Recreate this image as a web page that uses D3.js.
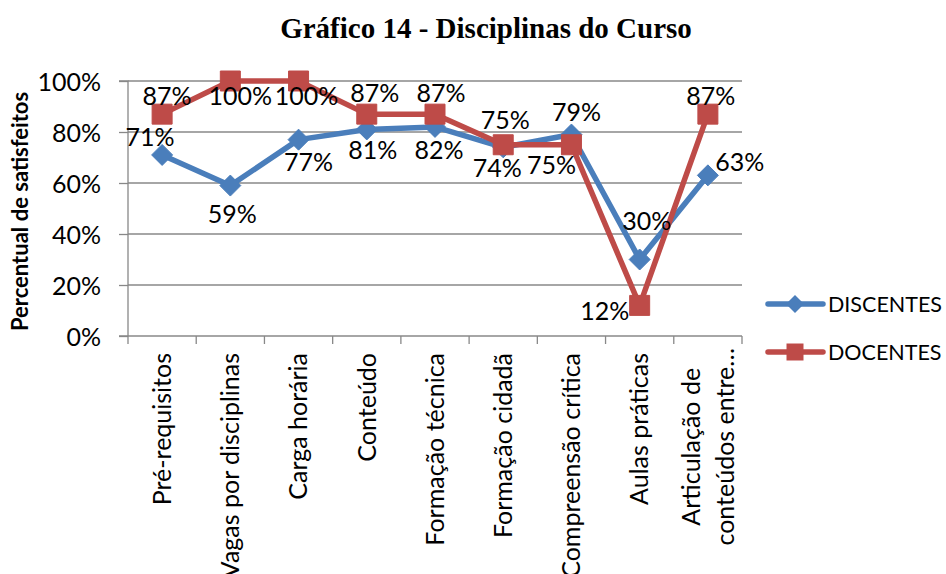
<!DOCTYPE html>
<html>
<head>
<meta charset="utf-8">
<script src="https://cdn.jsdelivr.net/npm/d3@7"></script>
<style>
  html, body { margin: 0; padding: 0; background: #fff; }
  svg { display: block; }
</style>
</head>
<body>
<svg id="chart" width="946" height="574"></svg>
<script>
// ---- data ----
const categories = [
  "Pré-requisitos", "Vagas por disciplinas", "Carga horária", "Conteúdo",
  "Formação técnica", "Formação cidadã", "Compreensão crítica", "Aulas práticas",
  "Articulação de\nconteúdos entre…"
];
const seriesNames = ["DISCENTES", "DOCENTES"];
const discentes = [71, 59, 77, 81, 82, 74, 79, 30, 63];
const docentes  = [87, 100, 100, 87, 87, 75, 75, 12, 87];
const yTicks = [0, 20, 40, 60, 80, 100];
const titleText = "Gráfico 14 - Disciplinas do Curso";
const yAxisTitle = "Percentual de satisfeitos";

// label placement (text centre relative to marker)
const discentesLabelOffsets = [[-12,-18],[2,28],[10,22],[6,21],[4,23],[-6,21],[5,-23],[7,-39],[32,-13]];
const docentesLabelOffsets  = [[5,-18],[10,15],[8,15],[8,-21],[6,-21],[2,-25],[-20,20],[-35,6],[3,-18]];

(function () {
// ---- layout ----
const svg = d3.select("#chart");
const pL = 128, pR = 742, pT = 81, pB = 336;
const font = "Lato, 'Open Sans', sans-serif";
const blue = "#4A7EBB", red = "#BE4B48", grid = "#888888";

const x = d3.scaleBand().domain(d3.range(categories.length)).range([pL, pR]).padding(0);
const y = d3.scaleLinear().domain([0, 100]).range([pB, pT]);
const cx = i => x(i) + x.bandwidth() / 2;

// title
svg.append("text")
  .attr("x", 486).attr("y", 38)
  .attr("text-anchor", "middle")
  .attr("font-family", "'Liberation Serif', 'Times New Roman', serif")
  .attr("font-weight", "bold")
  .attr("font-size", 29)
  .text(titleText);

// gridlines
svg.append("g").selectAll("line").data(yTicks.filter(d => d > 0)).join("line")
  .attr("x1", pL).attr("x2", pR)
  .attr("y1", d => y(d)).attr("y2", d => y(d))
  .attr("stroke", grid).attr("stroke-width", 1.3);

// y axis
const yAxis = d3.axisLeft(y).tickValues(yTicks).tickSize(9).tickPadding(18)
  .tickFormat(d => d + "%");
const yg = svg.append("g").attr("transform", `translate(${pL},0)`).call(yAxis);
yg.select(".domain").attr("stroke", grid).attr("stroke-width", 1.3).attr("d", `M-9,${pT}H0V${pB}`);
yg.selectAll(".tick line").attr("stroke", grid).attr("stroke-width", 1.3);
yg.selectAll(".tick text").attr("font-family", font).attr("font-size", 25).attr("fill", "#000")
  .attr("dy", "0.36em");

// x axis
const xg = svg.append("g");
xg.append("line").attr("x1", pL - 9).attr("x2", pR).attr("y1", pB).attr("y2", pB)
  .attr("stroke", grid).attr("stroke-width", 1.3);
xg.selectAll("line.tk").data(d3.range(categories.length + 1)).join("line").attr("class", "tk")
  .attr("x1", i => pL + i * x.bandwidth()).attr("x2", i => pL + i * x.bandwidth())
  .attr("y1", pB).attr("y2", pB + 8)
  .attr("stroke", grid).attr("stroke-width", 1.3);

// category labels (rotated)
categories.forEach((c, i) => {
  const lines = c.split("\n");
  const lh = 34;
  const g = svg.append("g");
  const t = g.append("text")
    .attr("font-family", font).attr("font-size", 25).attr("fill", "#000");
  lines.forEach((ln, k) => {
    t.append("tspan").attr("x", 0).attr("y", (k - (lines.length - 1) / 2) * lh).attr("dy", "0.35em").text(ln);
  });
  if (lines.length === 1) {
    t.attr("text-anchor", "end");
    g.attr("transform", `translate(${cx(i)},${pB + 17}) rotate(-90)`);
  } else {
    t.attr("text-anchor", "middle");
    let maxLen = 0;
    t.selectAll("tspan").each(function () { maxLen = Math.max(maxLen, this.getComputedTextLength()); });
    g.attr("transform", `translate(${cx(i)},${pB + 12 + maxLen / 2}) rotate(-90)`);
  }
});

// y axis title
svg.append("text")
  .attr("transform", `translate(20,${(pT + pB) / 2 + 3}) rotate(-90)`)
  .attr("text-anchor", "middle").attr("dy", "0.35em")
  .attr("font-family", font).attr("font-weight", "bold").attr("font-size", 22)
  .text(yAxisTitle);

// markers
const diamond = r => `M0,${-r}L${r},0L0,${r}L${-r},0Z`;
const square = s => `M${-s/2},${-s/2}h${s}v${s}h${-s}Z`;

const series = [
  { name: seriesNames[0], values: discentes, color: blue, shape: diamond(10.5), offsets: discentesLabelOffsets },
  { name: seriesNames[1], values: docentes, color: red, shape: square(20), offsets: docentesLabelOffsets }
];

const line = d3.line().x((d, i) => cx(i)).y(d => y(d));
series.forEach(s => {
  svg.append("path").datum(s.values).attr("d", line)
    .attr("fill", "none").attr("stroke", s.color).attr("stroke-width", 5.5)
    .attr("stroke-linejoin", "round").attr("stroke-linecap", "round");
  svg.append("g").selectAll("path").data(s.values).join("path")
    .attr("transform", (d, i) => `translate(${cx(i)},${y(d)})`)
    .attr("d", s.shape).attr("fill", s.color).attr("stroke", s.color).attr("stroke-width", 1);
});

// data labels
series.forEach(s => {
  svg.append("g").selectAll("text").data(s.values).join("text")
    .attr("x", (d, i) => cx(i) + s.offsets[i][0])
    .attr("y", (d, i) => y(d) + s.offsets[i][1])
    .attr("dy", "0.36em").attr("text-anchor", "middle")
    .attr("font-family", font).attr("font-size", 25).attr("fill", "#000")
    .text(d => d + "%");
});

// legend
const lg = svg.append("g");
series.forEach((s, k) => {
  const ly = 304 + k * 48;
  lg.append("line").attr("x1", 768).attr("x2", 823).attr("y1", ly).attr("y2", ly)
    .attr("stroke", s.color).attr("stroke-width", 5.5).attr("stroke-linecap", "round");
  lg.append("path").attr("transform", `translate(795,${ly})`).attr("d", k === 0 ? diamond(9) : square(17))
    .attr("fill", s.color);
  lg.append("text").attr("x", 828).attr("y", ly).attr("dy", "0.36em")
    .attr("font-family", font).attr("font-size", 21.5).attr("fill", "#000").text(s.name);
});
})();
</script>
</body>
</html>
